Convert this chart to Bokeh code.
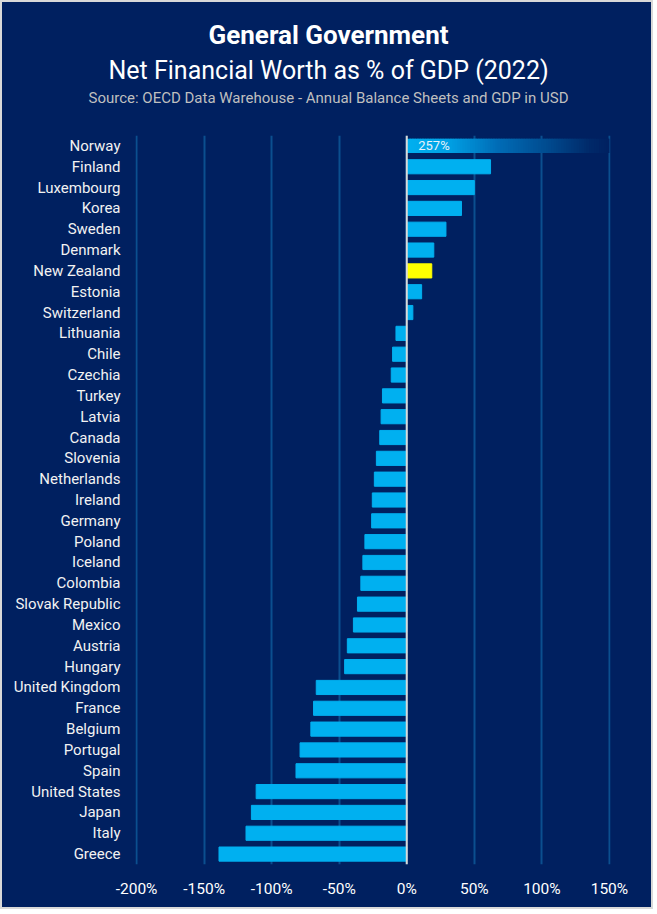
import numpy as np
from bokeh.plotting import figure
from bokeh.models import (FactorRange, FixedTicker, PrintfTickFormatter, Span, Title,
                          ColumnDataSource)
from bokeh.core.properties import value
from bokeh.embed import file_html
from bokeh.resources import INLINE

countries = ["Norway", "Finland", "Luxembourg", "Korea", "Sweden", "Denmark", "New Zealand",
             "Estonia", "Switzerland", "Lithuania", "Chile", "Czechia", "Turkey", "Latvia",
             "Canada", "Slovenia", "Netherlands", "Ireland", "Germany", "Poland", "Iceland",
             "Colombia", "Slovak Republic", "Mexico", "Austria", "Hungary", "United Kingdom",
             "France", "Belgium", "Portugal", "Spain", "United States", "Japan", "Italy", "Greece"]
net_worth = [257, 62, 50, 40.5, 29, 20, 18.5, 11, 4.5, -8, -10.5, -11.5, -18, -19, -20,
             -22.5, -24, -25.5, -26, -31, -32.5, -34, -36.5, -39.5, -44, -46, -67, -69,
             -71, -79, -82, -111.5, -115, -119, -139]
highlight = "New Zealand"
x_ticks = [-200, -150, -100, -50, 0, 50, 100, 150]

BG = "#002060"
BAR = "#00B0F0"
FONT = "Roboto"

x_min, x_max = x_ticks[0], x_ticks[-1]

W, H = 653, 909
BL, BR, BT, BB = 133, 45, 133, 47

p = figure(width=W, height=H, y_range=FactorRange(factors=countries[::-1]),
           x_range=(x_min - 0.8, x_max + 0.8), output_backend="svg", toolbar_location=None,
           min_border_left=BL, min_border_right=BR, min_border_top=BT, min_border_bottom=BB)
p.styles = {"border": "2px solid #D9D9D9", "background-color": BG}
p.background_fill_color = None
p.border_fill_color = None
p.outline_line_color = None

# grid
p.xgrid.ticker = FixedTicker(ticks=x_ticks)
p.xgrid.grid_line_color = "#0B4F8F"
p.xgrid.grid_line_width = 2
p.ygrid.grid_line_color = None

# regular bars (all but those clipped by the axis)
reg = [(c, v) for c, v in zip(countries, net_worth) if v <= x_max]
src = ColumnDataSource(dict(
    y=[c for c, _ in reg], right=[v for _, v in reg],
    color=["#FFFF00" if c == highlight else BAR for c, _ in reg]))
p.hbar(y="y", left=0, right="right", height=0.68, color="color", source=src)

# clipped bars: fade-out gradient
def hex2rgb(h):
    return np.array([int(h[i:i + 2], 16) for i in (1, 3, 5)], dtype=float)

stops = [(0.0, "#00B0F0"), (0.2, "#00A2E6"), (0.45, "#006CB6"), (0.7, "#004A8E"),
         (0.9, "#002A6A"), (1.0, BG)]
for c, v in zip(countries, net_worth):
    if v > x_max:
        n = 80
        edges = np.linspace(0, x_max, n + 1)
        mids = (edges[:-1] + edges[1:]) / 2 / x_max
        cols = []
        for t in mids:
            for (t0, c0), (t1, c1) in zip(stops[:-1], stops[1:]):
                if t0 <= t <= t1:
                    f = (t - t0) / (t1 - t0) if t1 > t0 else 0
                    rgb = hex2rgb(c0) * (1 - f) + hex2rgb(c1) * f
                    cols.append("#%02x%02x%02x" % tuple(int(round(x)) for x in rgb))
                    break
        right = np.minimum(edges[1:] + 1.5, x_max)
        p.hbar(y=[c] * n, left=edges[:-1], right=right, height=0.68,
               fill_color=cols, line_color=None)
        p.text(x=[8.5], y=[c], text=[f"{v:g}%"], text_font=value(FONT),
               text_font_size="13px", text_color="#E6F2FA", text_baseline="middle")

# zero line
p.add_layout(Span(location=0, dimension="height", line_color="#D9D9D9", line_width=2))

# axes
p.xaxis.ticker = FixedTicker(ticks=x_ticks)
p.xaxis.formatter = PrintfTickFormatter(format="%d%%")
p.xaxis.axis_line_color = None
p.xaxis.major_tick_line_color = None
p.xaxis.minor_tick_line_color = None
p.xaxis.major_label_text_color = "#FFFFFF"
p.xaxis.major_label_text_font = FONT
p.xaxis.major_label_text_font_size = "15.5px"
p.xaxis.major_label_standoff = 9

p.yaxis.axis_line_color = None
p.yaxis.major_tick_line_color = None
p.yaxis.minor_tick_line_color = None
p.yaxis.major_label_text_color = "#F2F2F2"
p.yaxis.major_label_text_font = FONT
p.yaxis.major_label_text_font_size = "15px"
p.yaxis.major_label_standoff = 9

# spacing panel between the plot and the source line
p.add_layout(Title(text=" ", text_font_size="1px", standoff=26), "above")

# titles (added closest-to-plot first); left-aligned with offsets that centre them
for txt, size, style, col, standoff, offset in [
        ("Source: OECD Data Warehouse - Annual Balance Sheets and GDP in USD", "15px",
         "normal", "#BFBFBF", 0, -47),
        ("Net Financial Worth as % of GDP (2022)", "25px", "normal", "#FFFFFF", 4, -27),
        ("General Government", "26px", "bold", "#FFFFFF", 3, 73)]:
    p.add_layout(Title(text=txt, align="left", offset=offset, text_font=FONT,
                       text_font_size=size, text_font_style=style, text_color=col,
                       standoff=standoff), "above")

open("out.html", "w").write(file_html(p, INLINE))
